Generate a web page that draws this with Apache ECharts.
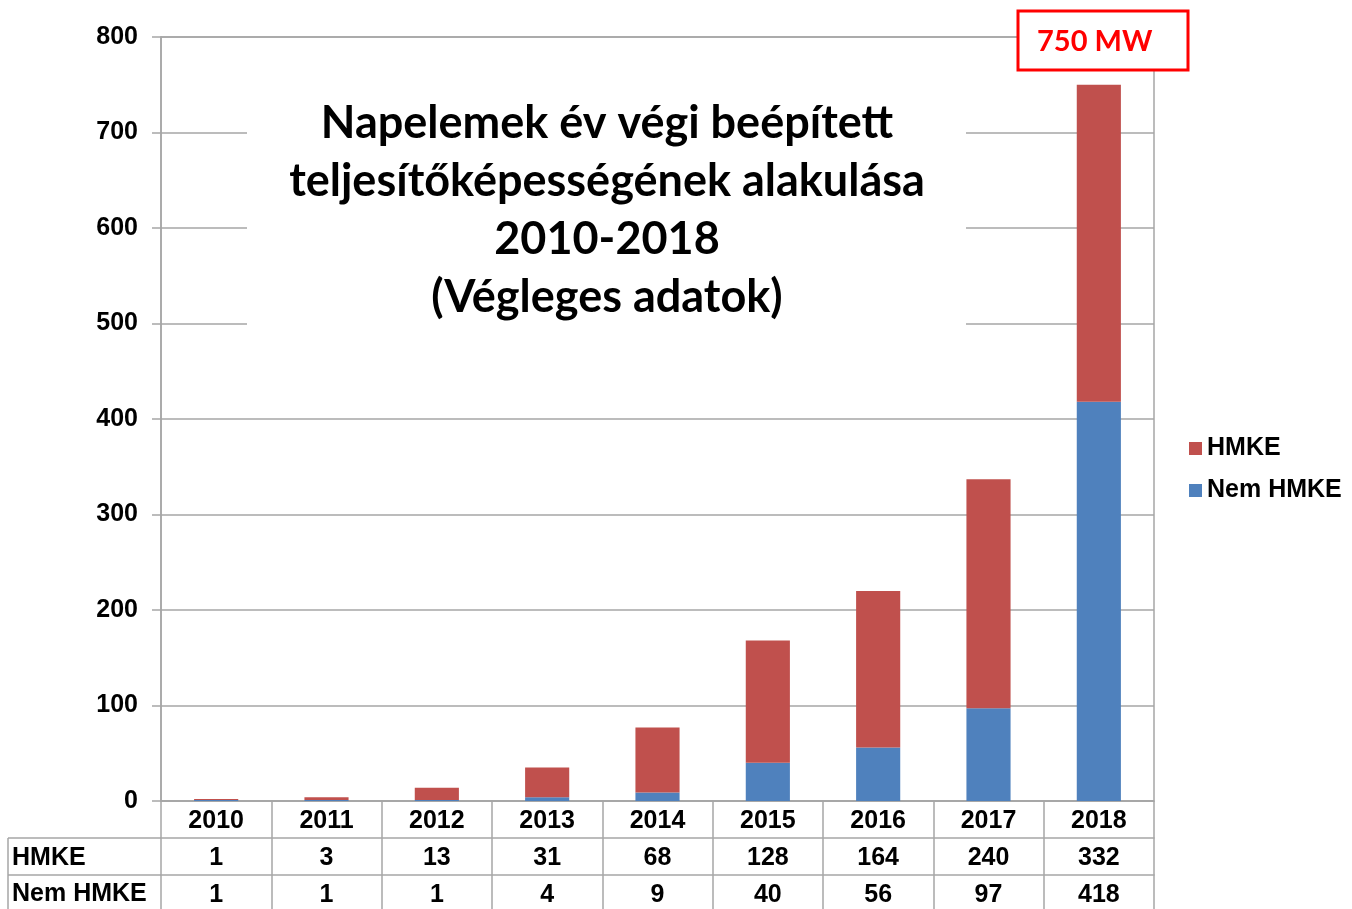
<!DOCTYPE html>
<html>
<head>
<meta charset="utf-8">
<script src="https://cdn.jsdelivr.net/npm/echarts@6/dist/echarts.min.js"></script>
<style>
  html, body { margin: 0; padding: 0; background: #fff; }
  #chart { width: 1352px; height: 909px; }
</style>
</head>
<body>
<div id="chart"></div>
<script>
const years = ["2010", "2011", "2012", "2013", "2014", "2015", "2016", "2017", "2018"];
const hmke = [1, 3, 13, 31, 68, 128, 164, 240, 332];
const nemHmke = [1, 1, 1, 4, 9, 40, 56, 97, 418];
const yTicks = { min: 0, max: 800, interval: 100 };
const titleLines = [
  "Napelemek év végi beépített",
  "teljesítőképességének alakulása",
  "2010-2018",
  "(Végleges adatok)"
];
const totalLabel = "750 MW";

const gray = "#a6a6a6";
const font = "Liberation Sans";
const fs = 25;

// táblázat sorai: minden sor egy külön kategória tengely
function tableAxis(data, offset) {
  return {
    type: "category",
    data: data.map(String),
    position: "bottom",
    offset: offset,
    gridIndex: 0,
    axisLine: { show: true, lineStyle: { color: gray, width: 1.5 } },
    axisTick: { show: true, length: 37, lineStyle: { color: gray, width: 1.5 } },
    axisLabel: {
      interval: 0,
      margin: 8,
      color: "#000",
      fontFamily: font,
      fontWeight: "bold",
      fontSize: fs,
    },
    splitLine: { show: false },
  };
}

const option = {
  animation: false,
  backgroundColor: "#fff",
  color: ["#4f81bd", "#c0504d"],
  grid: {
    left: 161,
    right: 198,
    top: 37,
    bottom: 108,
    show: true,
    borderColor: gray,
    borderWidth: 1.5,
    backgroundColor: "transparent",
  },
  legend: {
    data: ["HMKE", "Nem HMKE"],
    orient: "vertical",
    left: 1184,
    top: 431,
    itemWidth: 13,
    itemHeight: 13,
    itemGap: 17,
    icon: "rect",
    textStyle: { fontFamily: font, fontWeight: "bold", fontSize: fs, color: "#000" },
  },
  xAxis: [
    tableAxis(years, 0),
    tableAxis(hmke, 37),
    tableAxis(nemHmke, 74),
  ],
  yAxis: {
    type: "value",
    min: yTicks.min,
    max: yTicks.max,
    interval: yTicks.interval,
    axisLine: { show: true, lineStyle: { color: gray, width: 1.5 } },
    axisTick: { show: true, length: 9, lineStyle: { color: gray, width: 1.5 } },
    axisLabel: {
      margin: 23,
      color: "#000",
      fontFamily: font,
      fontWeight: "bold",
      fontSize: fs,
    },
    splitLine: { show: true, lineStyle: { color: gray, width: 1.5 } },
  },
  series: [
    {
      name: "Nem HMKE",
      type: "bar",
      stack: "total",
      xAxisIndex: 0,
      barWidth: "40%",
      data: nemHmke,
    },
    {
      name: "HMKE",
      type: "bar",
      stack: "total",
      xAxisIndex: 0,
      barWidth: "40%",
      data: hmke,
    },
  ],
  graphic: [
    // fehér háttér a cím mögött
    {
      type: "rect",
      z: 1,
      shape: { x: 247, y: 92, width: 719, height: 250 },
      style: { fill: "#fff" },
    },
    {
      type: "text",
      z: 2,
      style: {
        text: titleLines.join("\n"),
        x: 607,
        y: 94,
        textAlign: "center",
        textVerticalAlign: "top",
        fontFamily: "Lato",
        fontWeight: "bold",
        fontSize: 45,
        lineHeight: 58,
        fill: "#000",
      },
    },
    // 750 MW doboz
    {
      type: "rect",
      z: 5,
      shape: { x: 1018, y: 11, width: 170, height: 59 },
      style: { fill: "#fff", stroke: "#ff0000", lineWidth: 3 },
    },
    {
      type: "text",
      z: 6,
      style: {
        text: totalLabel,
        x: 1037,
        y: 42,
        textVerticalAlign: "middle",
        fontFamily: "Lato",
        fontWeight: "bold",
        fontSize: 29,
        fill: "#ff0000",
      },
    },
    // táblázat bal oldali oszlopa
    {
      type: "line",
      shape: { x1: 8, y1: 838, x2: 161, y2: 838 },
      style: { stroke: gray, lineWidth: 1.5 },
    },
    {
      type: "line",
      shape: { x1: 8, y1: 875, x2: 161, y2: 875 },
      style: { stroke: gray, lineWidth: 1.5 },
    },
    {
      type: "line",
      shape: { x1: 8, y1: 838, x2: 8, y2: 909 },
      style: { stroke: gray, lineWidth: 1.5 },
    },
    {
      type: "text",
      style: {
        text: "HMKE",
        x: 12,
        y: 858,
        textVerticalAlign: "middle",
        fontFamily: font,
        fontWeight: "bold",
        fontSize: fs,
        fill: "#000",
      },
    },
    {
      type: "text",
      style: {
        text: "Nem HMKE",
        x: 12,
        y: 894,
        textVerticalAlign: "middle",
        fontFamily: font,
        fontWeight: "bold",
        fontSize: fs,
        fill: "#000",
      },
    },
  ],
};

const myChart = echarts.init(document.getElementById("chart"));
myChart.setOption(option);
</script>
</body>
</html>
